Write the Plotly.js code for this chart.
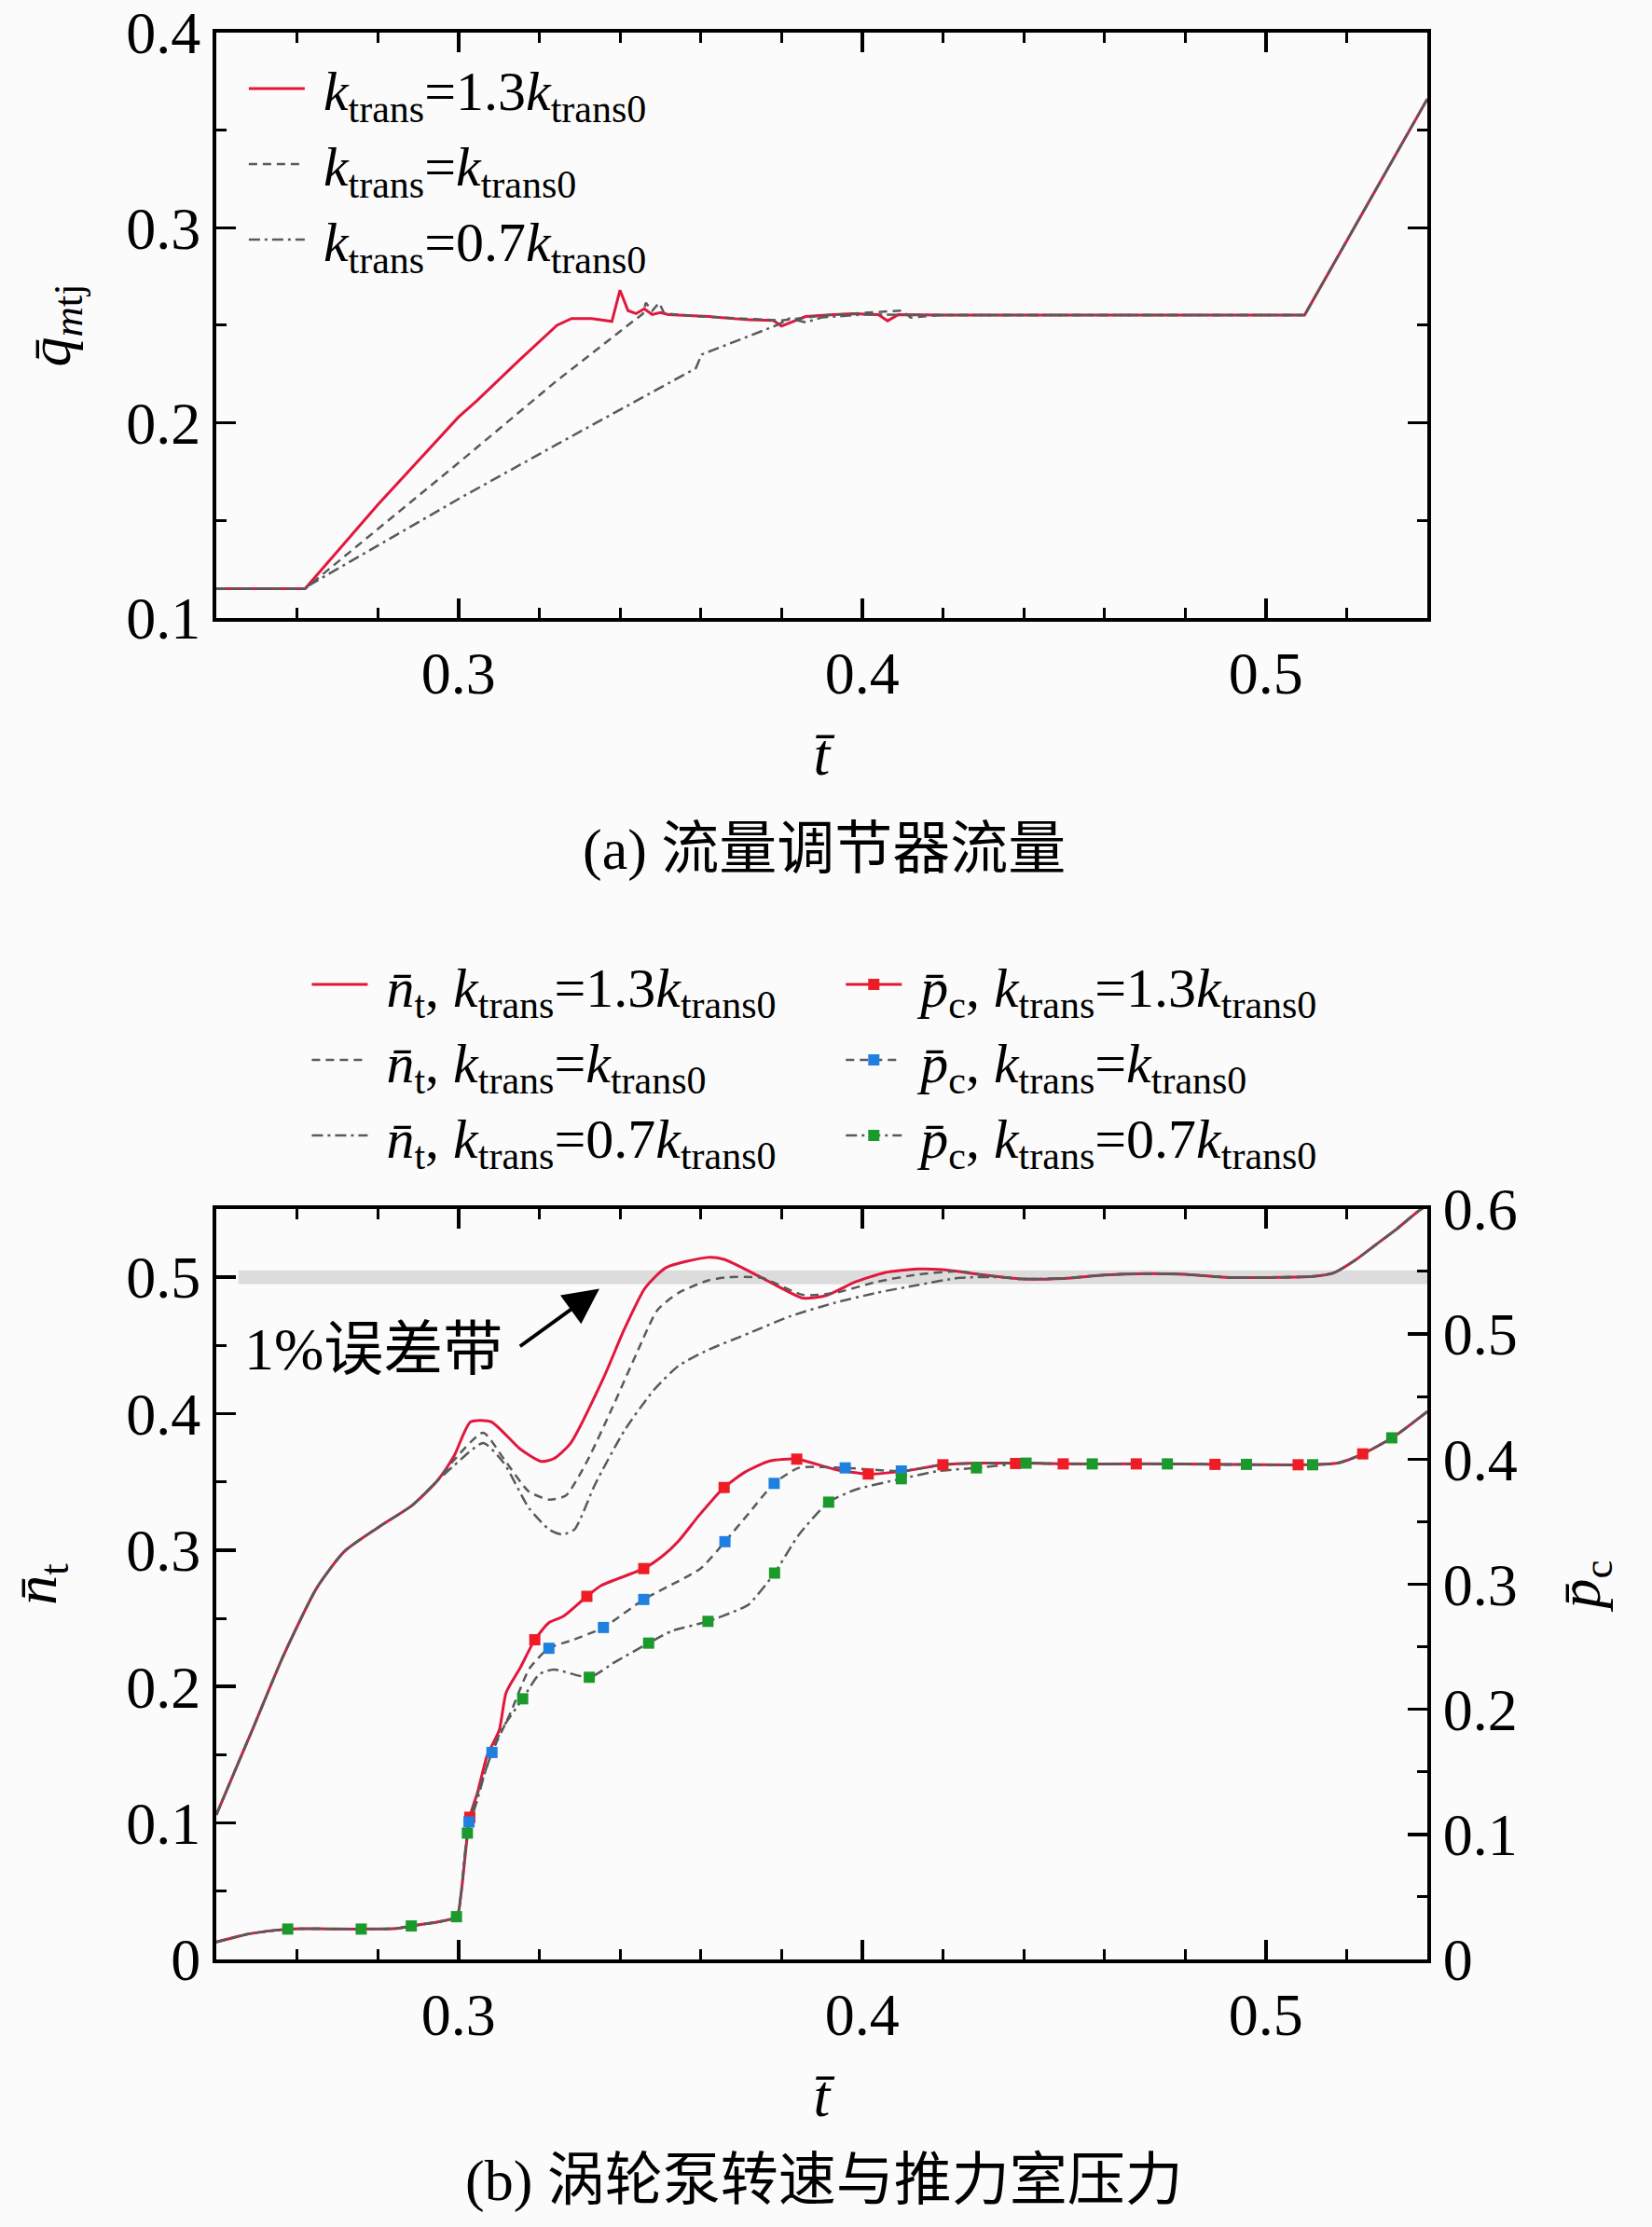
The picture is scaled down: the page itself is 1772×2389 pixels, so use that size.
<!DOCTYPE html>
<html lang="zh">
<head>
<meta charset="UTF-8">
<script src="https://cdn.plot.ly/plotly-3.0.1.min.js"></script>
<style>body{margin:0;background:#fbfbfb}</style>
<title>ktrans</title>
</head>
<body>
<div id="chart" style="width:1772px;height:2389px;"></div>
<script>
// ---- (a) flow regulator flow ----
var tq13 = [0.24, 0.262, 0.28, 0.30, 0.3045, 0.315, 0.3244, 0.328, 0.333, 0.338, 0.340, 0.342, 0.344, 0.346, 0.348, 0.350, 0.352, 0.362, 0.372, 0.378, 0.380, 0.386, 0.393, 0.398, 0.404, 0.4063, 0.409, 0.42, 0.46, 0.5096, 0.54]
var q13 = [0.115, 0.115, 0.158, 0.203, 0.2112, 0.232, 0.250, 0.2535, 0.2535, 0.252, 0.268, 0.2575, 0.256, 0.2585, 0.2555, 0.2565, 0.2555, 0.2545, 0.2528, 0.2525, 0.2496, 0.2545, 0.2555, 0.256, 0.2555, 0.2523, 0.2555, 0.2553, 0.2553, 0.2553, 0.366]
var tq10 = [0.24, 0.262, 0.30, 0.3244, 0.3457, 0.3464, 0.348, 0.3497, 0.351, 0.36, 0.37, 0.38, 0.39, 0.4099, 0.412, 0.42, 0.46, 0.5096, 0.54]
var q10 = [0.115, 0.115, 0.1795, 0.2217, 0.256, 0.2615, 0.2575, 0.2615, 0.256, 0.2545, 0.2535, 0.2525, 0.255, 0.2576, 0.254, 0.2553, 0.2553, 0.2553, 0.366]
var tq07 = [0.24, 0.2615, 0.30, 0.3244, 0.3588, 0.3602, 0.3788, 0.382, 0.386, 0.39, 0.40, 0.42, 0.46, 0.5096, 0.54]
var q07 = [0.115, 0.115, 0.161, 0.189, 0.228, 0.235, 0.250, 0.2535, 0.2515, 0.254, 0.2555, 0.2553, 0.2553, 0.2553, 0.366]

// ---- (b) turbopump speed, shared start and end ----
var ntHeadX = [0.24, 0.2494, 0.2565, 0.2648, 0.2717, 0.2803, 0.2886, 0.2948]
var ntHead = [0.106, 0.1716, 0.2218, 0.2718, 0.299, 0.317, 0.333, 0.351]
var ntTailX = [0.4395, 0.4498, 0.4601, 0.4704, 0.4807, 0.491, 0.5013, 0.5116, 0.5167, 0.5219, 0.5271, 0.5322, 0.5374, 0.54]
var ntTail = [0.4987, 0.4991, 0.5016, 0.5027, 0.502, 0.4998, 0.4998, 0.5005, 0.503, 0.512, 0.5235, 0.5348, 0.5475, 0.553]

var nt13X = [0.2989, 0.303, 0.3081, 0.3153, 0.3205, 0.3236, 0.3277, 0.3359, 0.3411, 0.3462, 0.3514, 0.3617, 0.3658, 0.3751, 0.3854, 0.3911, 0.3983, 0.4056, 0.4138, 0.42, 0.4292]
var nt13 = [0.369, 0.394, 0.394, 0.374, 0.365, 0.367, 0.378, 0.426, 0.462, 0.492, 0.507, 0.5145, 0.513, 0.4997, 0.4846, 0.4866, 0.4965, 0.5033, 0.506, 0.5055, 0.502]
var nt10X = [0.2989, 0.3061, 0.3112, 0.3174, 0.3225, 0.3266, 0.3318, 0.3379, 0.3441, 0.3493, 0.3545, 0.3617, 0.3669, 0.3751, 0.3854, 0.3933, 0.4035, 0.4138, 0.4241, 0.4292]
var nt10 = [0.366, 0.386, 0.367, 0.343, 0.337, 0.340, 0.3648, 0.403, 0.444, 0.476, 0.4885, 0.4975, 0.500, 0.4995, 0.487, 0.4885, 0.4965, 0.502, 0.5043, 0.502]
var nt07X = [0.2989, 0.3061, 0.3112, 0.3174, 0.3225, 0.3256, 0.3287, 0.3339, 0.3411, 0.3483, 0.3545, 0.3617, 0.372, 0.3823, 0.3933, 0.4035, 0.4138, 0.4241, 0.4344]
var nt07 = [0.362, 0.3784, 0.364, 0.331, 0.315, 0.3115, 0.315, 0.3486, 0.3876, 0.417, 0.435, 0.4465, 0.459, 0.4715, 0.4813, 0.4885, 0.4943, 0.4995, 0.500]

// ---- (b) chamber pressure ----
var pcHeadX = [0.24, 0.2483, 0.2577, 0.2759, 0.2847, 0.2883, 0.2995, 0.3006]
var pcHead = [0.0139, 0.0206, 0.0243, 0.0243, 0.0248, 0.0268, 0.0342, 0.0517]
var pcTailX = [0.4406, 0.45, 0.47, 0.49, 0.51, 0.5178, 0.524, 0.5317, 0.54]
var pcTail = [0.3968, 0.3962, 0.3962, 0.3958, 0.3955, 0.3968, 0.4042, 0.4179, 0.438]

var pc13X = [0.3028, 0.3047, 0.3071, 0.3101, 0.3118, 0.3153, 0.3189, 0.3224, 0.3259, 0.3318, 0.3354, 0.3459, 0.3506, 0.3545, 0.3596, 0.3658, 0.371, 0.3771, 0.3838, 0.3932, 0.4015, 0.4107, 0.42, 0.4292]
var pc13 = [0.1137, 0.1333, 0.163, 0.1833, 0.2133, 0.2332, 0.2556, 0.2692, 0.2742, 0.2903, 0.299, 0.3125, 0.3227, 0.3345, 0.355, 0.3773, 0.3897, 0.3985, 0.400, 0.3918, 0.3881, 0.3906, 0.3955, 0.3968]
var pc10X = [0.3026, 0.3047, 0.3083, 0.313, 0.3176, 0.3224, 0.3283, 0.3359, 0.3459, 0.36, 0.366, 0.372, 0.3782, 0.3843, 0.3958, 0.4097, 0.42, 0.4292]
var pc10 = [0.110, 0.132, 0.1655, 0.198, 0.2327, 0.2488, 0.2554, 0.2654, 0.2878, 0.3127, 0.334, 0.357, 0.3806, 0.393, 0.393, 0.3905, 0.3955, 0.3968]
var pc07X = [0.3022, 0.3047, 0.3071, 0.3106, 0.3159, 0.32, 0.3236, 0.3324, 0.3389, 0.3471, 0.353, 0.3618, 0.3689, 0.3718, 0.3783, 0.3843, 0.3917, 0.3984, 0.4097, 0.419, 0.4283]
var pc07 = [0.101, 0.128, 0.155, 0.1833, 0.2084, 0.228, 0.2318, 0.2256, 0.238, 0.2529, 0.2628, 0.2703, 0.279, 0.2835, 0.3089, 0.3395, 0.3656, 0.3756, 0.3843, 0.3905, 0.393]

// square markers on the pressure curves
var mk13X = [0.3028, 0.3189, 0.3318, 0.3459, 0.3658, 0.3838, 0.4015, 0.42, 0.438, 0.4498, 0.4679, 0.4874, 0.508, 0.524]
var mk13 = [0.1137, 0.2556, 0.2903, 0.3125, 0.3773, 0.400, 0.3881, 0.3955, 0.3965, 0.3962, 0.3962, 0.3958, 0.3955, 0.4042]
var mk10X = [0.3026, 0.3083, 0.3224, 0.3359, 0.3459, 0.366, 0.3782, 0.3958, 0.4097]
var mk10 = [0.110, 0.1655, 0.2488, 0.2654, 0.2878, 0.334, 0.3806, 0.393, 0.3905]
var mk07X = [0.2577, 0.2759, 0.2883, 0.2995, 0.3022, 0.3159, 0.3324, 0.3471, 0.3618, 0.3783, 0.3917, 0.4097, 0.4283, 0.4406, 0.457, 0.4756, 0.4952, 0.5116, 0.5312]
var mk07 = [0.0243, 0.0243, 0.0268, 0.0342, 0.101, 0.2084, 0.2256, 0.2529, 0.2703, 0.3089, 0.3656, 0.3843, 0.393, 0.3968, 0.3962, 0.3962, 0.3958, 0.3955, 0.417]

var errBandX = [0.2455, 0.54]
var errBand = [0.495, 0.505]

var RED = '#e2173d'
var GRAY = '#5a5a5a'
var DASH = '9px,6px'
var DASHDOT = '12px,5px,3px,5px'
var FONT = 'Liberation Serif, Times New Roman, Noto Sans CJK SC, serif'

function join(a, b, c) { return a.concat(b, c) }
// put a gap after every marker point so only the squares are drawn
function gaps(arr) {
    var out = []
    arr.forEach(function(v) { out.push(v, null) })
    return out
}

var kt = ' <i>k</i><sub>trans</sub>='
var k0 = '<i>k</i><sub>trans0</sub>'
var nt = ' <i>n\u0304</i><sub>t</sub>, <i>k</i><sub>trans</sub>='
var pc = ' <i>p\u0304</i><sub>c</sub>, <i>k</i><sub>trans</sub>='

function smooth(color, width, dash) {
    return {color: color, width: width, dash: dash, shape: 'spline', smoothing: 0.6}
}

var data = [
    // (a)
    {x: tq13, y: q13, xaxis: 'x', yaxis: 'y', mode: 'lines', name: kt + '1.3' + k0,
     line: {color: RED, width: 3}, legend: 'legend'},
    {x: tq10, y: q10, xaxis: 'x', yaxis: 'y', mode: 'lines', name: kt + k0,
     line: {color: GRAY, width: 2.5, dash: DASH}, legend: 'legend'},
    {x: tq07, y: q07, xaxis: 'x', yaxis: 'y', mode: 'lines', name: kt + '0.7' + k0,
     line: {color: GRAY, width: 2.5, dash: DASHDOT}, legend: 'legend'},
    // (b) speed
    {x: join(ntHeadX, nt13X, ntTailX), y: join(ntHead, nt13, ntTail), xaxis: 'x2', yaxis: 'y2',
     mode: 'lines', name: nt + '1.3' + k0, line: smooth(RED, 3, 'solid'), legend: 'legend2'},
    {x: join(ntHeadX, nt10X, ntTailX), y: join(ntHead, nt10, ntTail), xaxis: 'x2', yaxis: 'y2',
     mode: 'lines', name: nt + k0, line: smooth(GRAY, 2.5, DASH), legend: 'legend2'},
    {x: join(ntHeadX, nt07X, ntTailX), y: join(ntHead, nt07, ntTail), xaxis: 'x2', yaxis: 'y2',
     mode: 'lines', name: nt + '0.7' + k0, line: smooth(GRAY, 2.5, DASHDOT), legend: 'legend2'},
    // (b) pressure curves
    {x: join(pcHeadX, pc13X, pcTailX), y: join(pcHead, pc13, pcTail), xaxis: 'x2', yaxis: 'y3',
     mode: 'lines', line: smooth(RED, 3, 'solid'), showlegend: false},
    {x: join(pcHeadX, pc10X, pcTailX), y: join(pcHead, pc10, pcTail), xaxis: 'x2', yaxis: 'y3',
     mode: 'lines', line: smooth(GRAY, 2.5, DASH), showlegend: false},
    {x: join(pcHeadX, pc07X, pcTailX), y: join(pcHead, pc07, pcTail), xaxis: 'x2', yaxis: 'y3',
     mode: 'lines', line: smooth(GRAY, 2.5, DASHDOT), showlegend: false},
    // (b) pressure markers, these carry the legend entries
    {x: gaps(mk13X), y: gaps(mk13), xaxis: 'x2', yaxis: 'y3', mode: 'lines+markers',
     name: pc + '1.3' + k0, line: {color: RED, width: 3},
     marker: {symbol: 'square', size: 12, color: '#ee1c25'}, legend: 'legend3'},
    {x: gaps(mk10X), y: gaps(mk10), xaxis: 'x2', yaxis: 'y3', mode: 'lines+markers',
     name: pc + k0, line: {color: GRAY, width: 2.5, dash: DASH},
     marker: {symbol: 'square', size: 12, color: '#1f80e0'}, legend: 'legend3'},
    {x: gaps(mk07X), y: gaps(mk07), xaxis: 'x2', yaxis: 'y3', mode: 'lines+markers',
     name: pc + '0.7' + k0, line: {color: GRAY, width: 2.5, dash: DASHDOT},
     marker: {symbol: 'square', size: 12, color: '#1b9a2c'}, legend: 'legend3'}
]

function axis(extra) {
    var a = {
        showline: true, linecolor: '#000', linewidth: 4,
        ticks: 'inside', ticklen: 21, tickwidth: 3.5, tickcolor: '#000',
        showgrid: false, zeroline: false,
        tickfont: {family: FONT, size: 64, color: '#000'}
    }
    for (var k in extra) a[k] = extra[k]
    return a
}

function minor(step) {
    return {ticks: 'inside', ticklen: 11, tickwidth: 3, tickcolor: '#000', dtick: step, showgrid: false}
}

function legendBox(x, y) {
    return {x: x, y: y, xanchor: 'left', yanchor: 'top', bgcolor: 'rgba(0,0,0,0)',
            font: {family: FONT, size: 60, color: '#000'}, itemwidth: 60, tracegroupgap: 0}
}

var layout = {
    width: 1772, height: 2389,
    margin: {l: 232, r: 241, t: 35, b: 287},
    paper_bgcolor: '#fbfbfb', plot_bgcolor: '#fbfbfb',
    font: {family: FONT, color: '#000'},
    xaxis: axis({domain: [0, 1], range: [0.24, 0.54], dtick: 0.1, tick0: 0, mirror: 'ticks',
                 minor: minor(0.02), anchor: 'y',
                 title: {text: '<i>t\u0304</i>', font: {family: FONT, size: 64}, standoff: 30}}),
    yaxis: axis({domain: [0.6962, 1], range: [0.1, 0.4], dtick: 0.1, tick0: 0, mirror: 'ticks',
                 minor: minor(0.05), anchor: 'x',
                 title: {text: '<i>q\u0304</i><sub><i>m</i>tj</sub>', font: {family: FONT, size: 64}, standoff: 40}}),
    xaxis2: axis({domain: [0, 1], range: [0.24, 0.54], dtick: 0.1, tick0: 0, mirror: 'ticks',
                  minor: minor(0.02), anchor: 'y2',
                  title: {text: '<i>t\u0304</i>', font: {family: FONT, size: 64}, standoff: 30}}),
    yaxis2: axis({domain: [0, 0.3895], range: [0, 0.55], dtick: 0.1, tick0: 0,
                  minor: minor(0.05), anchor: 'x2',
                  title: {text: '<i>n\u0304</i><sub>t</sub>', font: {family: FONT, size: 64}, standoff: 55}}),
    yaxis3: axis({overlaying: 'y2', side: 'right', range: [0, 0.6], dtick: 0.1, tick0: 0,
                  minor: minor(0.05), anchor: 'x2',
                  title: {text: '<i>p\u0304</i><sub>c</sub>', font: {family: FONT, size: 64}, standoff: 45}}),
    legend: legendBox(0.023, 0.993),
    legend2: legendBox(0.075, 0.528),
    legend3: legendBox(0.516, 0.528),
    shapes: [{type: 'rect', xref: 'x2', yref: 'y2', layer: 'below',
              x0: errBandX[0], x1: errBandX[1], y0: errBand[0], y1: errBand[1],
              fillcolor: '#dcdcdc', line: {width: 0}}],
    annotations: [
        {xref: 'x2', yref: 'y2', axref: 'x2', ayref: 'y2', x: 0.3349, y: 0.4915, ax: 0.3149, ay: 0.4486,
         text: '', showarrow: true, arrowhead: 2, arrowsize: 1.9, arrowwidth: 4, arrowcolor: '#000'},
        {xref: 'x2', yref: 'y2', x: 0.279, y: 0.447, text: '1%误差带', showarrow: false,
         font: {family: FONT, size: 64, color: '#000'}},
        {xref: 'paper', yref: 'paper', x: 0.502, y: 0.576, xanchor: 'center', yanchor: 'middle',
         text: '(a) 流量调节器流量', showarrow: false, font: {family: FONT, size: 62, color: '#000'}},
        {xref: 'paper', yref: 'paper', x: 0.502, y: -0.1147, xanchor: 'center', yanchor: 'middle',
         text: '(b) 涡轮泵转速与推力室压力', showarrow: false, font: {family: FONT, size: 62, color: '#000'}}
    ]
}

Plotly.newPlot('chart', data, layout, {staticPlot: true})
</script>
</body>
</html>
